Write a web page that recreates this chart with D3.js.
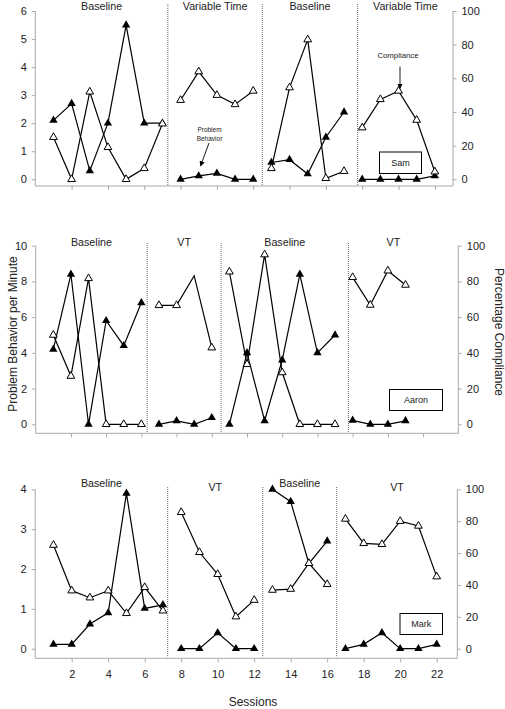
<!DOCTYPE html>
<html><head><meta charset="utf-8">
<script src="https://cdn.jsdelivr.net/npm/d3@7"></script>
<style>body{margin:0;background:#fff} svg{display:block}</style>
</head><body><svg id="c" width="505" height="709"></svg>
<script>
// ---------- DATA ----------
// Sam (top)
const samPhaseNames = ["Baseline", "Variable Time", "Baseline", "Variable Time"];
const samPhaseStart = [1, 8, 13, 18];
const samProblem = [[2.1, 2.7, 0.3, 2.0, 5.5, 2.0, 2.0], [0, 0.12, 0.21, 0, 0], [0.6, 0.7, 0.19, 1.5, 2.4], [0, 0, 0, 0, 0.12]];
const samCompliance = [[25, 0, 52, 19, 0, 6.5, 33], [47, 64, 50, 44.5, 52.5], [6.5, 54.5, 83, 0.6, 4.8], [30.7, 47.5, 52.5, 35.2, 4.5]];
const samPhaseLines = [7.3, 12.5, 17.75];
const samLeftTicks = [0, 1, 2, 3, 4, 5, 6];
// Aaron (middle)
const aaronPhaseNames = ["Baseline", "VT", "Baseline", "VT"];
const aaronPhaseStart = [1, 7, 11, 18];
const aaronProblem = [[4.2, 8.4, 0, 5.8, 4.4, 6.8], [0, 0.19, 0, 0.37], [0, 4.0, 0.2, 3.6, 8.4, 4.0, 5.0], [0.22, 0, 0, 0.19]];
const aaronCompliance = [[50, 27, 81.7, 0, 0, 0], [66.6, 66.6, 83.2, 42.9], [85.4, 33.6, 95, 29, 0, 0, 0], [82.3, 66.8, 86, 78]];
const aaronPhaseLines = [6.33, 10.53, 17.76];
const aaronOpenNoMarker = [9];
const aaronLeftTicks = [0, 2, 4, 6, 8, 10];
// Mark (bottom)
const markPhaseNames = ["Baseline", "VT", "Baseline", "VT"];
const markPhaseStart = [1, 8, 13, 17];
const markProblem = [[0.11, 0.11, 0.62, 0.9, 3.9, 1.01, 1.1], [0, 0, 0.4, 0, 0], [4.0, 3.69, 2.14, 2.7], [0, 0.11, 0.4, 0, 0, 0.11]];
const markCompliance = [[65, 36.4, 32, 36.4, 22.2, 38.5, 23.8], [85.6, 60.5, 46.7, 20.1, 30.5], [36.8, 37.4, 53.6, 40.4], [81.4, 66.1, 65.5, 80, 77, 45.2]];
const markPhaseLines = [7.26, 12.47, 16.52];
const markLeftTicks = [0, 1, 2, 3, 4];

const rightTicks = [0, 20, 40, 60, 80, 100];
const sessionTicks = [2, 4, 6, 8, 10, 12, 14, 16, 18, 20, 22];

// ---------- LAYOUT ----------
const FONT = "'Liberation Sans', Arial, Helvetica, sans-serif";
const AXIS = "#a9a9a9";
const TXT = "#222";

const panels = [
  {name: "Sam", names: samPhaseNames, start: samPhaseStart, pb: samProblem, comp: samCompliance, lines: samPhaseLines,
   yMax: 6, lt: samLeftTicks, xMax: 23, left: 35.3, right: 453, top: 11, zero: 179.3, axisY: 186,
   labelY: [10, 10, 10, 10], lineTop: 4, box: [379.5, 152, 42, 21.5], labels: false, noMarker: []},
  {name: "Aaron", names: aaronPhaseNames, start: aaronPhaseStart, pb: aaronProblem, comp: aaronCompliance, lines: aaronPhaseLines,
   yMax: 10, lt: aaronLeftTicks, xMax: 24, left: 35.7, right: 458.3, top: 245.7, zero: 424.3, axisY: 433.3,
   labelY: [245.5, 245.5, 245.5, 245.5], lineTop: 243, box: [389.5, 389.5, 53, 21], labels: false, noMarker: aaronOpenNoMarker,
   labelShift: [0, 0, 0, -10]},
  {name: "Mark", names: markPhaseNames, start: markPhaseStart, pb: markProblem, comp: markCompliance, lines: markPhaseLines,
   yMax: 4, lt: markLeftTicks, xMax: 23.13, left: 35.2, right: 457.3, top: 489.3, zero: 648.7, axisY: 658.3,
   labelY: [486.5, 490.5, 486.5, 490.5], lineTop: 487, box: [400, 613.5, 42.5, 21], labels: true, noMarker: []}
];

const svg = d3.select("#c");
const defs = svg.append("defs");
defs.append("marker").attr("id", "arr").attr("viewBox", "0 0 10 10")
  .attr("refX", 9).attr("refY", 5).attr("markerWidth", 6).attr("markerHeight", 6)
  .attr("orient", "auto").append("path").attr("d", "M0,0L10,5L0,10z").attr("fill", "#000");

const tri = d3.symbol().type(d3.symbolTriangle).size(30)();
const triOpen = d3.symbol().type(d3.symbolTriangle).size(26)();

function styleAxis(sel) {
  sel.select(".domain").remove();
  sel.selectAll(".tick line").attr("stroke", AXIS).attr("stroke-width", 1);
  sel.selectAll(".tick text").attr("fill", TXT).style("font-family", FONT).style("font-size", "11px");
}

panels.forEach(p => {
  const x = d3.scaleLinear().domain([0, p.xMax]).range([p.left, p.right]);
  const y = d3.scaleLinear().domain([0, p.yMax]).range([p.zero, p.top]);
  const yR = d3.scaleLinear().domain([0, 100]).range([p.zero, p.top]);
  const g = svg.append("g");

  // axes
  const gl = g.append("g").attr("transform", `translate(${p.left},0)`)
    .call(d3.axisLeft(y).tickValues(p.lt).tickSize(3.5).tickPadding(5).tickFormat(d3.format("d")));
  styleAxis(gl);
  const gr = g.append("g").attr("transform", `translate(${p.right},0)`)
    .call(d3.axisRight(yR).tickValues(rightTicks).tickSize(3.5).tickPadding(5).tickFormat(d3.format("d")));
  styleAxis(gr);
  const gb = g.append("g").attr("transform", `translate(0,${p.axisY})`)
    .call(d3.axisBottom(x).tickValues(sessionTicks).tickSize(4).tickPadding(8)
      .tickFormat(p.labels ? d3.format("d") : () => ""));
  styleAxis(gb);
  g.append("line").attr("x1", p.left).attr("x2", p.left).attr("y1", p.top).attr("y2", p.axisY).attr("stroke", AXIS);
  g.append("line").attr("x1", p.right).attr("x2", p.right).attr("y1", p.top).attr("y2", p.axisY).attr("stroke", AXIS);
  g.append("line").attr("x1", p.left).attr("x2", p.right).attr("y1", p.axisY).attr("y2", p.axisY).attr("stroke", AXIS);

  // phase lines
  p.lines.forEach(s => {
    g.append("line").attr("x1", x(s)).attr("x2", x(s)).attr("y1", p.lineTop).attr("y2", p.axisY - 1)
      .attr("stroke", "#6a6a6a").attr("stroke-width", 1).attr("stroke-dasharray", "1,1");
  });

  // phase labels
  const bounds = [0, ...p.lines, p.xMax];
  p.names.forEach((n, i) => {
    const cx = x((bounds[i] + bounds[i + 1]) / 2) + (p.labelShift ? p.labelShift[i] : 0);
    g.append("text").attr("x", cx).attr("y", p.labelY[i]).attr("text-anchor", "middle")
      .style("font-family", FONT).style("font-size", "10.7px").attr("fill", TXT).text(n);
  });

  const line = d3.line();
  // compliance lines (open)
  p.comp.forEach((arr, i) => {
    const pts = arr.map((v, j) => [x(p.start[i] + j), yR(v)]);
    g.append("path").attr("d", line(pts)).attr("fill", "none").attr("stroke", "#000").attr("stroke-width", 1.2);
  });
  // problem behaviour lines (filled)
  p.pb.forEach((arr, i) => {
    const pts = arr.map((v, j) => [x(p.start[i] + j), y(v)]);
    g.append("path").attr("d", line(pts)).attr("fill", "none").attr("stroke", "#000").attr("stroke-width", 1.2);
  });
  // filled markers
  p.pb.forEach((arr, i) => {
    arr.forEach((v, j) => {
      g.append("path").attr("d", tri).attr("transform", `translate(${x(p.start[i] + j)},${y(v)})`).attr("fill", "#000");
    });
  });
  // open markers
  p.comp.forEach((arr, i) => {
    arr.forEach((v, j) => {
      const s = p.start[i] + j;
      if (p.noMarker.includes(s)) return;
      g.append("path").attr("d", triOpen).attr("transform", `translate(${x(s)},${yR(v)})`)
        .attr("fill", "#fff").attr("stroke", "#000").attr("stroke-width", 1);
    });
  });

  // name box
  g.append("rect").attr("x", p.box[0]).attr("y", p.box[1]).attr("width", p.box[2]).attr("height", p.box[3])
    .attr("fill", "#fff").attr("stroke", "#000").attr("stroke-width", 1);
  g.append("text").attr("x", p.box[0] + p.box[2] / 2).attr("y", p.box[1] + p.box[3] / 2 + 3.2)
    .attr("text-anchor", "middle").style("font-family", FONT).style("font-size", "9px").attr("fill", TXT).text(p.name);

  p.x = x; p.y = y; p.yR = yR;
});

// annotations (top panel)
const ann = svg.append("g").style("font-family", FONT).attr("fill", TXT);
ann.append("text").attr("x", 209.5).attr("y", 131.5).attr("text-anchor", "middle").style("font-size", "6.5px").text("Problem");
ann.append("text").attr("x", 209.5).attr("y", 140.5).attr("text-anchor", "middle").style("font-size", "6.5px").text("Behavior");
svg.append("line").attr("x1", 209).attr("y1", 143).attr("x2", 200.5).attr("y2", 166)
  .attr("stroke", "#000").attr("stroke-width", 0.9).attr("marker-end", "url(#arr)");
ann.append("text").attr("x", 398).attr("y", 58).attr("text-anchor", "middle").style("font-size", "7.8px").text("Compliance");
svg.append("line").attr("x1", 400).attr("y1", 66.5).attr("x2", 400).attr("y2", 88.5)
  .attr("stroke", "#000").attr("stroke-width", 0.9).attr("marker-end", "url(#arr)");

// axis titles
svg.append("text").attr("transform", "translate(17,334) rotate(-90)").attr("text-anchor", "middle")
  .style("font-family", FONT).style("font-size", "12px").attr("fill", TXT).text("Problem Behavior per Minute");
svg.append("text").attr("transform", "translate(494.5,332) rotate(90)").attr("text-anchor", "middle")
  .style("font-family", FONT).style("font-size", "12px").attr("fill", TXT).text("Percentage Compliance");
svg.append("text").attr("x", 253).attr("y", 706).attr("text-anchor", "middle")
  .style("font-family", FONT).style("font-size", "12px").attr("fill", TXT).text("Sessions");
</script>
</body></html>
